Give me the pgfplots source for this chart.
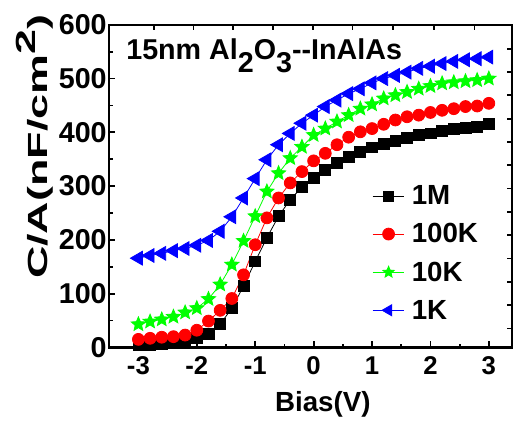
\documentclass[border=0pt]{standalone}
\usepackage{fontspec}
\setmainfont{Liberation Sans}
\usepackage{graphicx}
\usepackage{pgfplots}
\pgfplotsset{compat=1.18}
\definecolor{cvgreen}{RGB}{0,255,0}
\definecolor{cvred}{RGB}{255,0,0}
\definecolor{cvblue}{RGB}{0,0,255}

% filled five-pointed star
\pgfdeclareplotmark{fstar}{%
  \pgfpathmoveto{\pgfpointpolar{90}{\pgfplotmarksize}}%
  \pgfpathlineto{\pgfpointpolar{126}{0.45\pgfplotmarksize}}%
  \pgfpathlineto{\pgfpointpolar{162}{\pgfplotmarksize}}%
  \pgfpathlineto{\pgfpointpolar{198}{0.45\pgfplotmarksize}}%
  \pgfpathlineto{\pgfpointpolar{234}{\pgfplotmarksize}}%
  \pgfpathlineto{\pgfpointpolar{270}{0.45\pgfplotmarksize}}%
  \pgfpathlineto{\pgfpointpolar{306}{\pgfplotmarksize}}%
  \pgfpathlineto{\pgfpointpolar{342}{0.45\pgfplotmarksize}}%
  \pgfpathlineto{\pgfpointpolar{18}{\pgfplotmarksize}}%
  \pgfpathlineto{\pgfpointpolar{54}{0.45\pgfplotmarksize}}%
  \pgfpathclose
  \pgfusepathqfillstroke}

% C/A (nF/cm^2) vs bias, 15nm Al2O3 on InAlAs
\pgfplotstableread{
V     M1   K100 K10  K1
-3.0  4    15   43   166
-2.8  5    17   48   171
-2.6  6    19   52   175
-2.4  8    20   57   180
-2.2  12   23   65   184
-2.0  17   32   73   190
-1.8  25   49   90   199
-1.6  43   69   117  216
-1.4  73   91   154  243
-1.2  114  135  198  278
-1.0  160  191  244  314
-0.8  204  241  290  349
-0.6  244  278  324  377
-0.4  275  306  352  398
-0.2  298  327  373  417
 0.0  316  347  395  432
 0.2  330  361  407  448
 0.4  344  377  420  460
 0.6  355  391  432  472
 0.8  364  401  444  481
 1.0  372  407  452  492
 1.2  378  415  463  500
 1.4  384  423  469  506
 1.6  390  429  475  512
 1.8  395  432  481  519
 2.0  398  437  486  523
 2.2  402  441  491  528
 2.4  406  444  493  532
 2.6  409  448  495  535
 2.8  411  449  497  537
 3.0  415  454  500  540
}\cvdata

\begin{document}
\bfseries
\begin{tikzpicture}
\begin{axis}[
  scale only axis,
  width=406bp, height=325bp,
  xmin=-3.5, xmax=3.4,
  ymin=0, ymax=600,
  xtick={-3,-2,...,3},
  ytick={0,100,...,600},
  minor x tick num=1,
  minor y tick num=1,
  xtick pos=bottom, ytick pos=left,
  tick align=inside,
  major tick length=6bp,
  minor tick length=3.5bp,
  axis line style={line width=2.2bp},
  every tick/.style={line width=1.8bp, black},
  /pgf/number format/assume math mode=true,
  xticklabel style={font=\fontsize{26}{28}\selectfont\bfseries, yshift=-5.5bp},
  yticklabel style={font=\fontsize{29}{31}\selectfont\bfseries, xshift=1bp},
  xlabel={Bias(V)},
  ylabel={\scalebox{1.62}[1]{C/A(nF/cm\raisebox{0.42em}{2})}},
  label style={font=\fontsize{28}{30}\selectfont\bfseries},
  xlabel style={at={(rel axis cs:0.53,-0.2)}, anchor=base},
  ylabel style={at={(rel axis cs:-0.153,0.622)}, anchor=base},
  clip=false,
  legend style={draw=none, fill=none, at={(0.645,0.514)}, anchor=north west,
    font=\fontsize{28}{30}\selectfont\bfseries, row sep=13.5bp, column sep=5bp},
  legend cell align=left,
  legend image code/.code={\draw[mark repeat=2,mark phase=2] plot coordinates {(0bp,0bp) (16bp,0bp) (32bp,0bp)};},
]
\addplot[black, line width=0.8bp, mark=square*, mark size=5.5bp, mark options={solid},
  legend image post style={mark size=5bp}] table[x=V, y=M1] {\cvdata};
\addplot[cvred, line width=0.8bp, mark=*, mark size=6bp, mark options={solid},
  legend image post style={mark size=6bp}] table[x=V, y=K100] {\cvdata};
\addplot[cvgreen, line width=0.8bp, mark=fstar, mark size=7.5bp, mark options={solid, fill=cvgreen},
  legend image post style={mark size=6bp}] table[x=V, y=K10] {\cvdata};
\addplot[cvblue, line width=0.8bp, mark=triangle*, mark size=8bp, mark options={solid, rotate=90},
  legend image post style={mark size=6.5bp}] table[x=V, y=K1] {\cvdata};
\legend{1M, 100K, 10K, 1K}
\node[anchor=base west, inner sep=0pt, font=\fontsize{29}{31}\selectfont\bfseries]
  at (rel axis cs:0.042,0.892) {15nm Al\raisebox{-0.45em}{2}O\raisebox{-0.45em}{3}-{}-InAlAs};
\end{axis}
% top and right ticks of the linked layer (own scale, in pixels of the box)
\begin{axis}[
  scale only axis,
  width=406bp, height=325bp,
  xmin=0, xmax=406, ymin=0, ymax=325,
  axis x line*=top, axis y line*=right,
  axis line style={draw=none},
  xtick={45,85,125,165,205,245,286,327,368},
  ytick={19,42.5,66,89.5,113,136.5,160,183.5,207,230.5,254,277.5,301},
  xticklabels={}, yticklabels={},
  tick align=inside,
  major tick length=5bp,
  every tick/.style={line width=1.8bp, black},
]
\end{axis}
\path ([shift={(-110bp,-71bp)}]current axis.south west) rectangle ([shift={(3bp,25bp)}]current axis.north east);
\end{tikzpicture}
\end{document}
